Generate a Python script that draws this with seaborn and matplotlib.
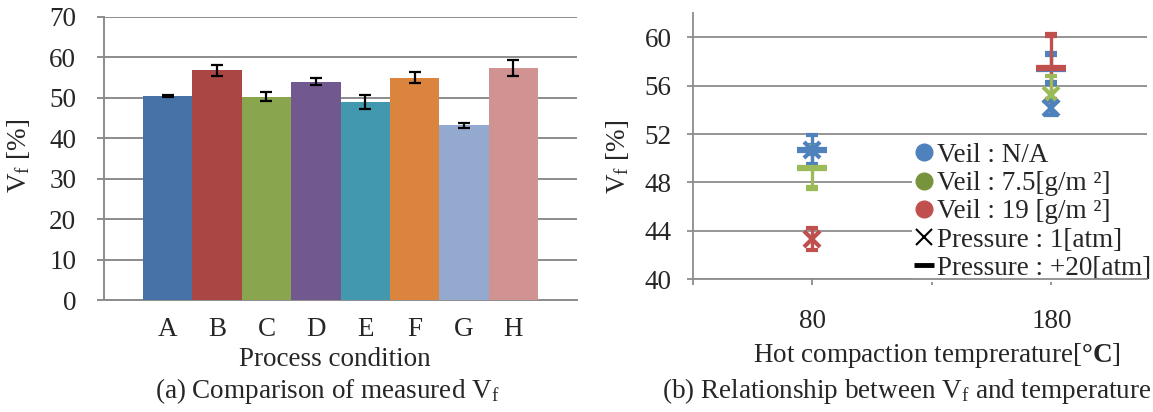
import numpy as np
import pandas as pd
import matplotlib
matplotlib.use("Agg")
import matplotlib.pyplot as plt
from matplotlib.lines import Line2D
import seaborn as sns

# ---------------- data ----------------
conditions = ["A", "B", "C", "D", "E", "F", "G", "H"]
vf_values = [50.4, 56.8, 50.3, 54.0, 49.0, 55.0, 43.2, 57.4]
vf_errors = [0.2, 1.3, 1.1, 0.8, 1.7, 1.3, 0.7, 2.0]
bar_colors = ["#4672A8", "#AA4644", "#89A54E", "#71588F",
              "#4198AF", "#DB843D", "#93A9CF", "#D19392"]

temps = [80, 180]
# series: (veil, pressure)
na_1atm = [50.7, 54.2]
na_1atm_err = [1.2, 0.65]
na_20atm = [50.7, 57.4]
na_20atm_err = [0.3, 1.2]
v75_1atm_t = [180]
v75_1atm = [55.2]
v75_1atm_err = [1.6]
v75_20atm_t = [80]
v75_20atm = [49.2]
v75_20atm_err = [1.7]
v19_1atm_t = [80]
v19_1atm = [43.3]
v19_1atm_err = [0.9]
v19_20atm_t = [180]
v19_20atm = [57.5]
v19_20atm_err = [2.7]

legend_labels = ["Veil : N/A", "Veil : 7.5[g/m ²]", "Veil : 19 [g/m ²]",
                 "Pressure : 1[atm]", "Pressure : +20[atm]"]

# ---------------- style ----------------
sns.set_theme(style="white")
plt.rcParams["font.family"] = ["Liberation Serif", "DejaVu Serif"]
plt.rcParams["mathtext.fontset"] = "custom"
plt.rcParams["mathtext.rm"] = "Liberation Serif"
plt.rcParams["mathtext.it"] = "Liberation Serif:italic"
plt.rcParams["mathtext.bf"] = "Liberation Serif:bold"

FS = 19.5
GRID = "#8c8c8c"
BLUE = "#4F81BD"
GREEN = "#9BBB59"
RED = "#C0504D"

W, H = 1153, 412
fig = plt.figure(figsize=(W / 100, H / 100), dpi=100)

def fx(px):
    return px / W

def fy(py):
    return 1 - py / H

# ---------------- left chart ----------------
axL = fig.add_axes([fx(104), fy(300), fx(577 - 104), (300 - 17) / H])
df = pd.DataFrame({"cond": conditions, "vf": vf_values})
sns.barplot(data=df, x="cond", y="vf", hue="cond", palette=bar_colors,
            width=1.0, legend=False, ax=axL, errorbar=None, saturation=1,
            zorder=3, linewidth=0)
axL.errorbar(np.arange(len(conditions)), vf_values, yerr=vf_errors, fmt="none",
             ecolor="black", elinewidth=1.6, capsize=4.5, capthick=1.6, zorder=4)
axL.set_xlim(-1.29, 8.29)
axL.set_ylim(0, 70)
axL.set_yticks(np.arange(0, 71, 10))
axL.yaxis.grid(True, color=GRID, linewidth=1.4, zorder=0)
axL.set_axisbelow(True)
for s in ["top", "right"]:
    axL.spines[s].set_visible(False)
for s in ["left", "bottom"]:
    axL.spines[s].set_color(GRID)
    axL.spines[s].set_linewidth(1.4)
axL.tick_params(axis="y", length=5, width=1.4, color=GRID, pad=15,
                labelsize=FS, left=True, direction="out")
axL.tick_params(axis="x", length=0, pad=12, labelsize=FS)
axL.set_xlabel("Process condition", fontsize=FS)
axL.set_ylabel(r"V$_{\mathrm{f}}$ [%]", fontsize=FS)
axL.xaxis.set_label_coords(0.488, -0.165)
axL.yaxis.set_label_coords(-0.152, 0.509)

# ---------------- right chart ----------------
axR = fig.add_axes([fx(693), fy(279), fx(1147 - 693), (279 - 13.3) / H])
axR.set_xlim(30, 220)
axR.set_ylim(40, 62)
axR.set_yticks(np.arange(40, 61, 4))
axR.set_xticks([30, 80, 130, 180])
axR.set_xticklabels(["", "80", "", "180"])
axR.yaxis.grid(True, color=GRID, linewidth=1.3, zorder=0)
axR.set_axisbelow(True)
for s in ["top", "right"]:
    axR.spines[s].set_visible(False)
for s in ["left", "bottom"]:
    axR.spines[s].set_color(GRID)
    axR.spines[s].set_linewidth(1.3)
axR.tick_params(axis="y", length=4.5, width=1.3, color=GRID, pad=11,
                labelsize=FS, left=True, direction="out")
axR.tick_params(axis="x", length=4.5, width=1.3, color=GRID, pad=17,
                labelsize=FS, bottom=True, direction="out")

ekw = dict(elinewidth=2.4, capsize=4.5, capthick=2.4)
dash_kw = dict(marker="_", markersize=21, markeredgewidth=4.5, linestyle="none")
cross_kw = dict(marker="x", markersize=11, markeredgewidth=3, linestyle="none")

axR.errorbar(temps, na_20atm, yerr=na_20atm_err, color=BLUE, ecolor=BLUE, **dash_kw, **ekw, zorder=3)
axR.errorbar(v19_20atm_t, v19_20atm, yerr=v19_20atm_err, color=RED, ecolor=RED, **dash_kw, **ekw, zorder=3)
axR.errorbar(v75_20atm_t, v75_20atm, yerr=v75_20atm_err, color=GREEN, ecolor=GREEN, **dash_kw, **ekw, zorder=3)
axR.errorbar(v75_1atm_t, v75_1atm, yerr=v75_1atm_err, color=GREEN, ecolor=GREEN, **cross_kw, **ekw, zorder=3)
axR.errorbar(temps, na_1atm, yerr=na_1atm_err, color=BLUE, ecolor=BLUE, **cross_kw, **ekw, zorder=3)
axR.errorbar(v19_1atm_t, v19_1atm, yerr=v19_1atm_err, color=RED, ecolor=RED, **cross_kw, **ekw, zorder=3)

axR.set_xlabel(r"Hot compaction temprerature[$\mathbf{°C}$]", fontsize=FS)
axR.set_ylabel(r"V$_{\mathrm{f}}$ [%]", fontsize=FS)
axR.xaxis.set_label_coords(0.537, -0.235)
axR.yaxis.set_label_coords(-0.137, 0.459)

handles = [
    Line2D([], [], marker="o", color="#4F81BD", linestyle="none", markersize=12),
    Line2D([], [], marker="o", color="#77933C", linestyle="none", markersize=12),
    Line2D([], [], marker="o", color="#C0504D", linestyle="none", markersize=12),
    Line2D([], [], marker="x", color="black", linestyle="none", markersize=11, markeredgewidth=1.5),
    Line2D([], [], marker="_", color="black", linestyle="none", markersize=14, markeredgewidth=3.5),
]
leg = axR.legend(handles, legend_labels, loc="upper left", bbox_to_anchor=(0.483, 0.5175),
                 fontsize=FS, frameon=True, facecolor="white", edgecolor="white",
                 framealpha=1, borderpad=0.05, labelspacing=0.12, handlelength=0.75,
                 handletextpad=0.1, borderaxespad=0)
leg.get_frame().set_linewidth(0)
leg.set_zorder(2)

# ---------------- captions ----------------
fig.text(fx(327), fy(391), r"(a) Comparison of measured V$_{\mathrm{f}}$",
         ha="center", va="center", fontsize=FS)
fig.text(fx(907), fy(391), r"(b) Relationship between V$_{\mathrm{f}}$ and temperature",
         ha="center", va="center", fontsize=FS)

fig.savefig("out.png", dpi=100)
